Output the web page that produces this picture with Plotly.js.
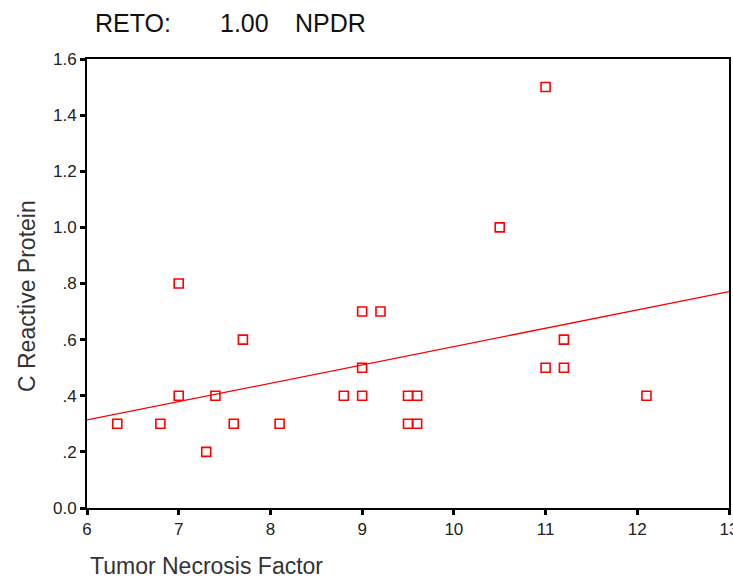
<!DOCTYPE html>
<html>
<head>
<meta charset="utf-8">
<script src="https://cdn.plot.ly/plotly-3.0.1.min.js"></script>
<style>html,body{margin:0;padding:0;background:#fff;}#chart{width:733px;height:583px;}</style>
</head>
<body>
<div id="chart"></div>
<script>
// Data
const tnf = [6.33, 6.8, 7.0, 7.0, 7.3, 7.4, 7.6, 7.7, 8.1, 8.8, 9.0, 9.0, 9.0, 9.2, 9.5, 9.5, 9.6, 9.6, 10.5, 11.0, 11.0, 11.2, 11.2, 12.1];
const crp = [0.3, 0.3, 0.8, 0.4, 0.2, 0.4, 0.3, 0.6, 0.3, 0.4, 0.7, 0.5, 0.4, 0.7, 0.4, 0.3, 0.4, 0.3, 1.0, 1.5, 0.5, 0.6, 0.5, 0.4];
const xTickVals = [6, 7, 8, 9, 10, 11, 12, 13];
const xTickText = ['6', '7', '8', '9', '10', '11', '12', '13'];
const yTickVals = [0, 0.2, 0.4, 0.6, 0.8, 1.0, 1.2, 1.4, 1.6];
const yTickText = ['0.0', '.2', '.4', '.6', '.8', '1.0', '1.2', '1.4', '1.6'];
const titleParts = ['RETO:', '1.00', 'NPDR'];
const fitRange = [6, 13];

// least-squares fit line from the data
const n = tnf.length;
const mx = tnf.reduce((a, b) => a + b, 0) / n;
const my = crp.reduce((a, b) => a + b, 0) / n;
let sxy = 0, sxx = 0;
for (let i = 0; i < n; i++) { sxy += (tnf[i] - mx) * (crp[i] - my); sxx += (tnf[i] - mx) ** 2; }
const slope = sxy / sxx, icpt = my - slope * mx;
const fitY = fitRange.map(x => icpt + slope * x);

const font = 'Liberation Sans, Arial, sans-serif';
const W = 733, H = 583, L = 87, R = 4, T = 59, B = 75;
const pw = W - L - R, ph = H - T - B;
const px = x => (x - L) / pw;
const py = y => (H - B - y) / ph;

const traces = [
  {x: fitRange, y: fitY, mode: 'lines', line: {color: '#ff0000', width: 1.3}, hoverinfo: 'skip', showlegend: false},
  {x: tnf, y: crp, mode: 'markers', marker: {symbol: 'square-open', size: 9, color: '#ff0000', line: {width: 1.6, color: '#ff0000'}}, showlegend: false}
];
const titleX = [93, 218, 293];
const annotations = titleParts.map((t, i) => ({
  text: t, xref: 'paper', yref: 'paper', x: px(titleX[i]), xanchor: 'left', y: py(23), yanchor: 'middle',
  showarrow: false, font: {size: 25, color: '#111', family: font}
}));
annotations.push(
  {text: 'Tumor Necrosis Factor', xref: 'paper', yref: 'paper', x: px(88), xanchor: 'left', y: py(566), yanchor: 'middle', showarrow: false, font: {size: 23, color: '#333', family: font}},
  {text: 'C Reactive Protein', xref: 'paper', yref: 'paper', x: px(27), xanchor: 'center', y: py(296), yanchor: 'middle', textangle: -90, showarrow: false, font: {size: 23, color: '#333', family: font}}
);
const layout = {
  width: W, height: H,
  margin: {l: L, r: R, t: T, b: B},
  paper_bgcolor: '#fff', plot_bgcolor: '#fff',
  font: {family: font, color: '#222'},
  xaxis: {range: [6, 13], tickvals: xTickVals, ticktext: xTickText, ticks: 'outside', ticklen: 5, tickwidth: 3, tickcolor: '#000',
    ticklabeloverflow: 'allow',
    showline: true, linecolor: '#000', linewidth: 2, mirror: true, showgrid: false, zeroline: false, tickfont: {size: 17, color: '#222'}},
  yaxis: {range: [0, 1.6], tickvals: yTickVals, ticktext: yTickText, ticks: 'outside', ticklen: 5, tickwidth: 3, tickcolor: '#000',
    showline: true, linecolor: '#000', linewidth: 2, mirror: true, showgrid: false, zeroline: false, tickfont: {size: 17, color: '#222'}},
  annotations: annotations
};
Plotly.newPlot('chart', traces, layout, {displayModeBar: false, staticPlot: true});
</script>
</body>
</html>
